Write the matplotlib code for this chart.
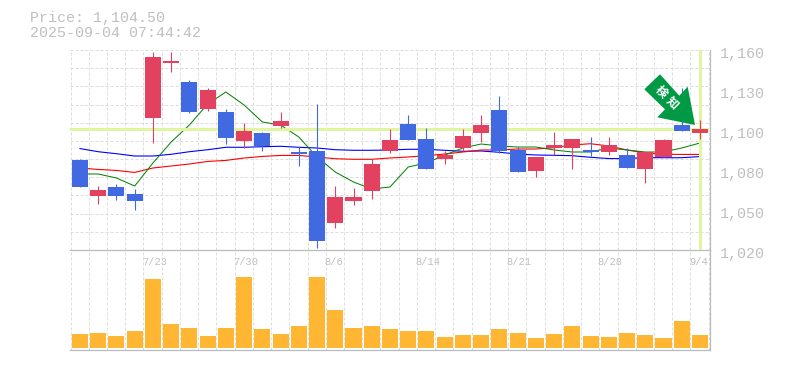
import numpy as np
import matplotlib
matplotlib.use("Agg")
import matplotlib.pyplot as plt
from matplotlib.patches import Polygon
from matplotlib.transforms import Affine2D, blended_transform_factory

plt.rcParams['font.family'] = ['Liberation Mono', 'Noto Sans CJK JP', 'DejaVu Sans']

opens = [1083, 1057.8, 1064.1, 1059.2, 1112.4, 1150.9, 1137.6, 1118.7, 1116.6, 1096.3, 1101.9, 1106.8,
         1088.6, 1089.3, 1038.9, 1054.3, 1061.3, 1089.3, 1108.2, 1097.7, 1083.7, 1091.4, 1101.9, 1118,
         1090, 1075.3, 1091.4, 1091.4, 1090, 1088.6, 1086.5, 1076.7, 1085.1, 1107.5, 1101.9]
closes = [1064.1, 1062, 1057.8, 1054.3, 1155.1, 1152.3, 1116.6, 1132, 1098.4, 1103.3, 1092.8, 1110.3,
          1087.2, 1026.3, 1057.1, 1057.1, 1080.2, 1097, 1097, 1076.7, 1086.5, 1099.8, 1107.5, 1089.3,
          1074.6, 1085.1, 1093.5, 1097.7, 1088.6, 1093.5, 1077.4, 1088.6, 1097, 1103.3, 1104.7]
highs = [1083.7, 1064.8, 1066.2, 1062.7, 1158.6, 1158.6, 1139, 1133.4, 1118.7, 1108.9, 1102.6, 1116.6,
         1092.1, 1122.2, 1064.8, 1063.4, 1083.7, 1104.7, 1114.5, 1105.4, 1089.3, 1104.7, 1114.5, 1127.8,
         1092.1, 1085.1, 1102.6, 1097.7, 1099.1, 1099.1, 1091.4, 1088.6, 1097.7, 1133.4, 1111]
lows = [1064.1, 1052.2, 1055, 1048, 1094.9, 1144.6, 1115.9, 1117.3, 1094.2, 1091.4, 1089.3, 1105.4,
        1078.8, 1021.4, 1035.4, 1051.5, 1055.7, 1087.9, 1097, 1076.7, 1080.2, 1089.3, 1095.6, 1087.9,
        1074.6, 1071.1, 1086.5, 1076.7, 1085.8, 1086.5, 1077.4, 1066.9, 1085.1, 1103.3, 1097.7]
ma_short = [1073.2, 1073.2, 1070.4, 1064.8, 1080.9, 1095.6, 1107.5, 1122.2, 1130.6, 1121.5, 1109.6, 1107.5,
            1099.1, 1085.1, 1074.6, 1067.6, 1062.7, 1064.1, 1078.1, 1080.9, 1086.5, 1091.4, 1094.2, 1092.8,
            1092.1, 1092.1, 1090, 1088.6, 1088.6, 1091.4, 1090, 1088.6, 1088.6, 1091.4, 1094.9]
ma_mid = [1077.4, 1076.4, 1075.7, 1074.3, 1077.4, 1078.8, 1080.2, 1082, 1082.7, 1084.4, 1085.5, 1086.2,
          1086.2, 1085.1, 1083.9, 1083.5, 1083.5, 1084.4, 1085.1, 1086, 1087.2, 1088.6, 1090, 1090,
          1090.7, 1090.7, 1091.6, 1093.5, 1094.4, 1092.8, 1090, 1087.9, 1087, 1086.9, 1086.9]
ma_long = [1091, 1088.8, 1087.4, 1085.8, 1085.8, 1087, 1088.8, 1090.2, 1091.9, 1091.9, 1092.3, 1092.6,
           1091.9, 1091.4, 1090.2, 1089.8, 1089.8, 1090, 1090.5, 1090.5, 1089.8, 1089.1, 1089.3, 1088.4,
           1087.2, 1086.5, 1086.3, 1086, 1084.9, 1084, 1084, 1084.7, 1084.6, 1084.6, 1085.4]
volume = [14, 15, 12, 17, 69, 24, 20, 12, 20, 71, 19, 14, 22, 71, 38, 20, 22, 19,
          17, 17, 11, 13, 13, 19, 15, 10, 14, 22, 12, 11, 15, 13, 10, 27, 13]
date_labels = {4: "7/23", 9: "7/30", 14: "8/6", 19: "8/14", 24: "8/21", 29: "8/28", 34: "9/4"}
price_ticks = [1020, 1048, 1076, 1104, 1132, 1160]
price_labels = ["1,020", "1,050", "1,080", "1,100", "1,130", "1,160"]
last_price = 1104.5

RED, BLUE, ORANGE = "#e2415f", "#4169e1", "#ffb733"
GRID, AXIS, TEXT = "#dddddd", "#bbbbbb", "#c0c0c0"
MARK = "#e0f5a0"
W, H = 785, 370

fig = plt.figure(figsize=(W / 100, H / 100), dpi=100)
ax = fig.add_axes([70 / W, 1 - 250 / H, 640 / W, 200 / H])
vol = fig.add_axes([70 / W, 1 - 350 / H, 640 / W, 100 / H])
px = Affine2D().scale(1, -1).translate(0, H)

x = np.arange(len(closes))
edges = np.arange(len(closes) + 1) - 0.52
dash = dict(color=GRID, lw=0.72, ls=(0, (3, 2)))

for a in (ax, vol):
    a.set_xlim(-0.548, 34.55)
    a.set_xticks(edges)
    a.tick_params(length=0, labelbottom=False, labelleft=False)
    a.grid(True, axis="x", **dash)
    a.set_axisbelow(True)
    a.patch.set_alpha(0)
    for s in a.spines.values():
        s.set_visible(False)
    for side in ("right", "bottom"):
        a.spines[side].set_visible(True)
        a.spines[side].set_color(AXIS)
        a.spines[side].set_linewidth(0.9)

ax.set_ylim(1020, 1160)
ax.set_yticks(np.linspace(1020, 1160, 12))
ax.grid(True, axis="y", **dash)
for gl in ax.get_ygridlines():
    gl.set_clip_on(False)

# moving averages sit behind the candles
ax.plot(x, ma_long, color="#0000ff", lw=0.8, zorder=2)
ax.plot(x, ma_mid, color="#ff0000", lw=0.8, zorder=2)
ax.plot(x, ma_short, color="#008000", lw=0.72, zorder=2)

ax.axhline(last_price, color=MARK, lw=2.2, zorder=3)
ax.axvline(x[-1], color=MARK, lw=2.2, zorder=3)

colors = [RED if c > o else BLUE for o, c in zip(opens, closes)]
ax.vlines(x, lows, highs, colors=colors, lw=0.8, zorder=4)
ax.bar(x, np.abs(np.array(closes) - np.array(opens)), bottom=np.minimum(opens, closes),
       width=0.88, color=colors, lw=0, zorder=5)

for tick, label in zip(price_ticks, price_labels):
    ax.annotate(label, xy=(1, tick), xycoords=ax.get_yaxis_transform(), xytext=(7.2, -2.9),
                textcoords="offset points", ha="left", va="center", fontsize=10.8, color=TEXT,
                annotation_clip=False)

vol.set_ylim(-2, 98)
vol.bar(x, volume, width=0.88, color=ORANGE, lw=0, zorder=3)
trans = blended_transform_factory(vol.transData, vol.transAxes)
for i, label in date_labels.items():
    vol.text(i - 0.6, 0.88, label, transform=trans, ha="left", va="center", fontsize=7.5, color=TEXT)

fig.text(30 / W, 1 - 18 / H, f"Price: {last_price:,.2f}", fontsize=10.8, color=TEXT, va="center")
fig.text(30 / W, 1 - 33 / H, "2025-09-04 07:44:42", fontsize=10.8, color=TEXT, va="center")

# signal arrow
arrow = [(660, 74.3), (679.3, 95.7), (687.7, 86.7), (695, 125), (657.3, 117.3), (665, 109.3), (644.3, 89.3)]
fig.add_artist(Polygon(arrow, closed=True, fc="#009944", ec="none", transform=px, zorder=10))
for (cx, cy), ch in zip([(660.7, 91.7), (672.3, 102.7)], "検知"):
    fig.text(cx, H - cy, ch, transform=None, rotation=-45, rotation_mode="anchor", ha="center", va="center",
             fontsize=8.5, fontweight="bold", color="white", family=['Noto Sans CJK JP', 'DejaVu Sans'], zorder=11)

fig.savefig("out.png", dpi=100)
